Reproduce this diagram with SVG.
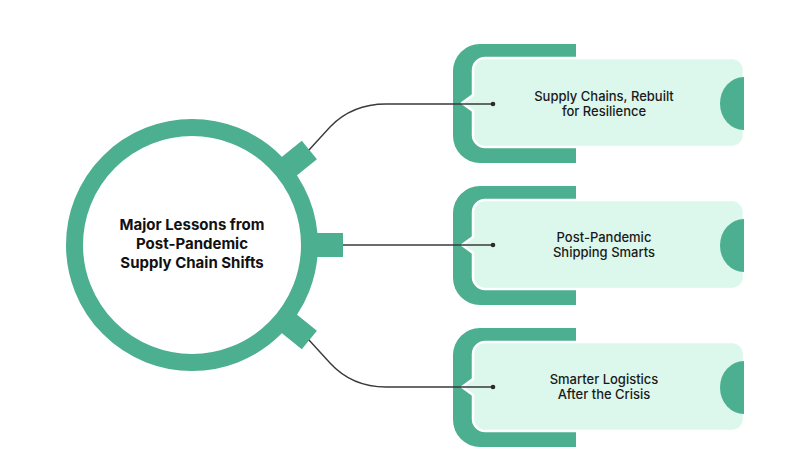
<svg xmlns="http://www.w3.org/2000/svg" xmlns:xlink="http://www.w3.org/1999/xlink" width="811" height="475" viewBox="0 0 811 475">
  <style>
    .green { fill: #4caf8f; }
    .card { fill: #dcf7ec; stroke: #ffffff; stroke-width: 2.5; stroke-linejoin: round; }
    .ring { fill: #ffffff; stroke: #4caf8f; stroke-width: 17; }
    .conn { fill: none; stroke: #3a3a3a; stroke-width: 1.4; }
    .dot { fill: #2b2b2b; }
    .title { font-family: Inter, "Liberation Sans", sans-serif; font-weight: 700; font-size: 15px; fill: #111111; text-anchor: middle; }
    .label { font-family: Inter, "Liberation Sans", sans-serif; font-weight: 500; font-size: 13px; fill: #1a1a1a; text-anchor: middle; }
  </style>
  <defs>
    <g id="cardShape">
      <path class="green" d="M576,44 H480 A27,27 0 0 0 453,71 V136 A27,27 0 0 0 480,163 H576 Z"/>
      <path class="card" d="M485,58 H732 A12,12 0 0 1 744,70 V135 A12,12 0 0 1 732,147 H485 A12,12 0 0 1 473,135 V111 L462,103 L473,95 V70 A12,12 0 0 1 485,58 Z"/>
      <path class="green" d="M744,77 A24,26.5 0 0 0 744,130 Z"/>
    </g>
  </defs>

  <g id="hub">
    <rect class="green" x="300" y="233" width="43" height="24" transform="rotate(-39 192 245)"/>
    <rect class="green" x="300" y="233" width="43" height="24"/>
    <rect class="green" x="300" y="233" width="43" height="24" transform="rotate(39 192 245)"/>
    <circle class="ring" cx="192" cy="245" r="117.5"/>
    <text class="title" x="192" y="230">Major Lessons from</text>
    <text class="title" x="192" y="249">Post-Pandemic</text>
    <text class="title" x="192" y="268">Supply Chain Shifts</text>
  </g>

  <g id="card1">
    <use xlink:href="#cardShape"/>
    <text class="label" x="604" y="101">Supply Chains, Rebuilt</text>
    <text class="label" x="604" y="116">for Resilience</text>
  </g>

  <g id="card2">
    <use xlink:href="#cardShape" transform="translate(0,142)"/>
    <text class="label" x="604" y="242">Post-Pandemic</text>
    <text class="label" x="604" y="257">Shipping Smarts</text>
  </g>

  <g id="card3">
    <use xlink:href="#cardShape" transform="translate(0,284)"/>
    <text class="label" x="604" y="384">Smarter Logistics</text>
    <text class="label" x="604" y="399">After the Crisis</text>
  </g>

  <g id="connectors">
    <path class="conn" d="M309,150 L330,127 Q352,104 386,104 L493,104"/>
    <path class="conn" d="M343,245 L493,245"/>
    <path class="conn" d="M309,340 L330,363 Q352,387 386,387 L493,387"/>
    <circle class="dot" cx="493" cy="104" r="2.3"/>
    <circle class="dot" cx="493" cy="245" r="2.3"/>
    <circle class="dot" cx="493" cy="387" r="2.3"/>
  </g>
</svg>
